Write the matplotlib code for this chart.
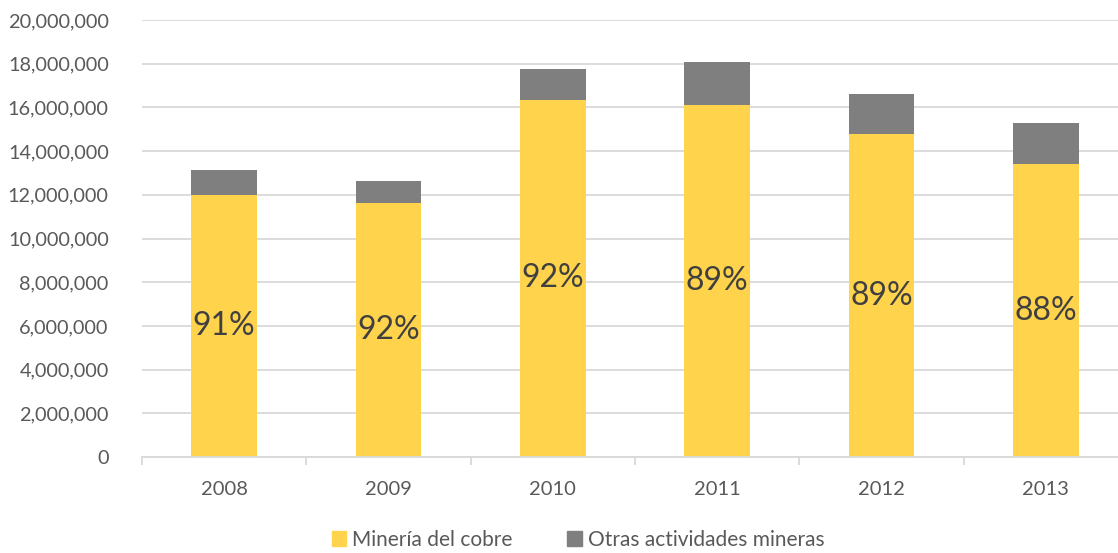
import matplotlib
matplotlib.use("Agg")
import matplotlib.pyplot as plt
from matplotlib.ticker import FuncFormatter, FixedLocator
from matplotlib.patches import Patch
import numpy as np

years = ["2008", "2009", "2010", "2011", "2012", "2013"]
cobre = [11.99e6, 11.62e6, 16.35e6, 16.11e6, 14.78e6, 13.39e6]
otras = [1.13e6, 1.01e6, 1.41e6, 1.97e6, 1.85e6, 1.88e6]
pct_labels = ["91%", "92%", "92%", "89%", "89%", "88%"]

YELLOW = "#FFD34B"
GRAY = "#7F7F7F"
TXT = "#595959"
GRID = "#D9D9D9"

plt.rcParams['font.family'] = ['Lato', 'DejaVu Sans']

fig = plt.figure(figsize=(11.18, 5.53), dpi=100)
ax = fig.add_axes([142/1118, 1-457/553, 986/1118, 437/553])

x = np.arange(len(years))
ax.bar(x, cobre, width=0.40, color=YELLOW, zorder=3)
ax.bar(x, otras, width=0.40, bottom=cobre, color=GRAY, zorder=3)

for xi, c, lab in zip(x, cobre, pct_labels):
    ax.text(xi, c/2, lab, ha='center', va='center', fontsize=23, color="#404040", zorder=4)

ax.set_xlim(-0.5, len(years)-0.5)
ax.set_ylim(0, 20e6)
ax.set_yticks(np.arange(0, 20e6+1, 2e6))
ax.yaxis.set_major_formatter(FuncFormatter(lambda v, p: f"{int(v):,}"))
ax.set_xticks(x)
ax.set_xticklabels(years)
ax.xaxis.set_minor_locator(FixedLocator(np.arange(-0.5, len(years), 1.0)))

ax.grid(axis='y', color=GRID, linewidth=1.3, zorder=0)
for s in ['top', 'right', 'left']:
    ax.spines[s].set_visible(False)
ax.spines['bottom'].set_color(GRID)
ax.spines['bottom'].set_linewidth(1.3)
ax.spines['bottom'].set_zorder(5)

ax.tick_params(axis='y', length=0, labelsize=14.3, labelcolor=TXT, pad=24)
ax.tick_params(axis='x', which='major', length=0, labelsize=14.5, labelcolor=TXT, pad=17)
ax.tick_params(axis='x', which='minor', length=6, color=GRID, width=1.3)

handles = [Patch(color=YELLOW, label="Minería del cobre"),
           Patch(color=GRAY, label="Otras actividades mineras")]
fig.legend(handles=handles, loc='center', bbox_to_anchor=(578/1118, 1-540/553), ncol=2,
           frameon=False, fontsize=15, labelcolor=TXT, handlelength=0.7, handleheight=0.7,
           handletextpad=0.3, columnspacing=2.6)

fig.savefig("out.png", dpi=100)
